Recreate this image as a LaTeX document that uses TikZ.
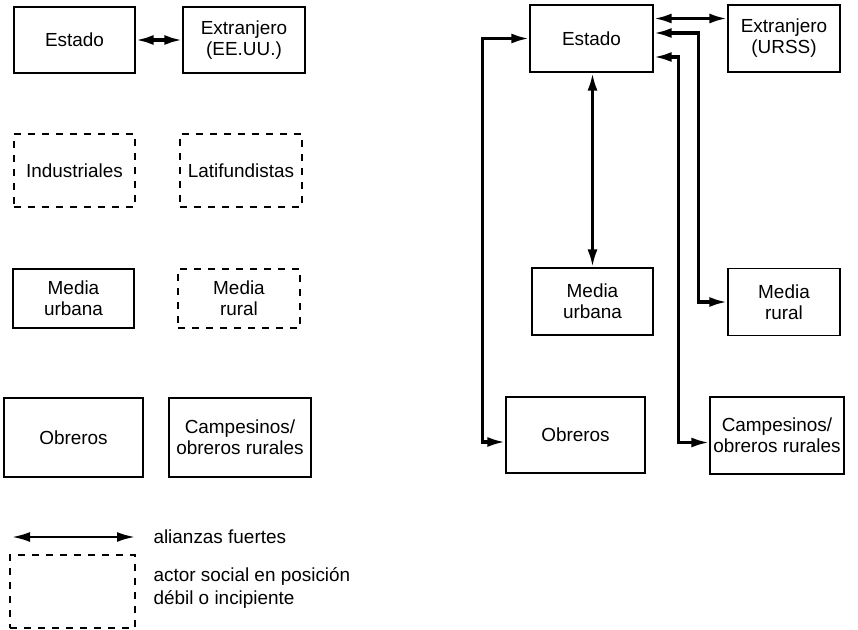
\documentclass[tikz,border=0pt]{standalone}
\usepackage{fontspec}
\setmainfont{Liberation Sans}
\usetikzlibrary{arrows.meta}

\begin{document}
\begin{tikzpicture}[x=1bp, y=-1bp, >={Latex[length=18bp,width=10bp]},
  actor/.style={draw, line width=1.2bp, align=center, inner sep=0pt, font=\fontsize{19}{21}\selectfont},
  weak/.style={actor, dash pattern=on 7bp off 7bp},
  alianza/.style={<->, line width=3.2bp}]
\useasboundingbox (0,0) rectangle (858,630);

\node[actor, minimum width=121bp, minimum height=66bp] (estA) at (74.5,40) {Estado};
\node[actor, minimum width=122bp, minimum height=66bp] (extA) at (244,40) {Extranjero\\(EE.UU.)};
\node[weak, minimum width=121bp, minimum height=73bp] (ind) at (74.5,170.5) {Industriales};
\node[weak, minimum width=122bp, minimum height=73bp] (lat) at (241,170.5) {Latifundistas};
\node[actor, minimum width=121bp, minimum height=59bp] (murbA) at (73.5,298.5) {Media\\urbana};
\node[weak, minimum width=122bp, minimum height=59bp] (mrurA) at (239,298.5) {Media\\rural};
\node[actor, minimum width=139bp, minimum height=79bp] (obrA) at (73.5,437.5) {Obreros};
\node[actor, minimum width=142bp, minimum height=79bp] (camA) at (240,437.5) {Campesinos/\\obreros rurales};

\draw[alianza] (estA.east) -- (extA.west);

\node[actor, minimum width=123bp, minimum height=67bp] (estB) at (591.5,38.5) {Estado};
\node[actor, minimum width=112bp, minimum height=67bp] (extB) at (784,38.5) {Extranjero\\(URSS)};
\node[actor, minimum width=121bp, minimum height=67bp] (murbB) at (592.5,301.5) {Media\\urbana};
\node[actor, minimum width=112bp, minimum height=67bp] (mrurB) at (784,302) {Media\\rural};
\node[actor, minimum width=139bp, minimum height=76bp] (obrB) at (575.5,435) {Obreros};
\node[actor, minimum width=134bp, minimum height=77bp] (camB) at (777,435.5) {Campesinos/\\obreros rurales};

\draw[alianza] ([yshift=20bp]estB.east) -- ([yshift=20bp]extB.west);
\draw[alianza] (estB.west) -- ++(-47,0) |- ([yshift=-7bp]obrB.west);
\draw[alianza] (estB.south -| murbB.north) -- (murbB.north);
\draw[alianza] ([yshift=5.5bp]estB.east) -- ++(45,0) |- (mrurB.west);
\draw[alianza] ([yshift=-18.5bp]estB.east) -- ++(25,0) |- ([yshift=-7bp]camB.west);

\coordinate (legA) at (12,537);
\coordinate (legB) at (135,537);
\draw[<->, line width=2.4bp] (legA) -- (legB);
\node[anchor=west, font=\fontsize{19}{23}\selectfont] (legfuerte) at (150,537) {alianzas fuertes};
\node[weak, minimum width=125bp, minimum height=73bp] (legbox) at (72.5,591.5) {};
\node[anchor=west, align=left, font=\fontsize{19}{23}\selectfont] (legdebil) at (150,588) {actor social en posición\\débil o incipiente};
\end{tikzpicture}
\end{document}
